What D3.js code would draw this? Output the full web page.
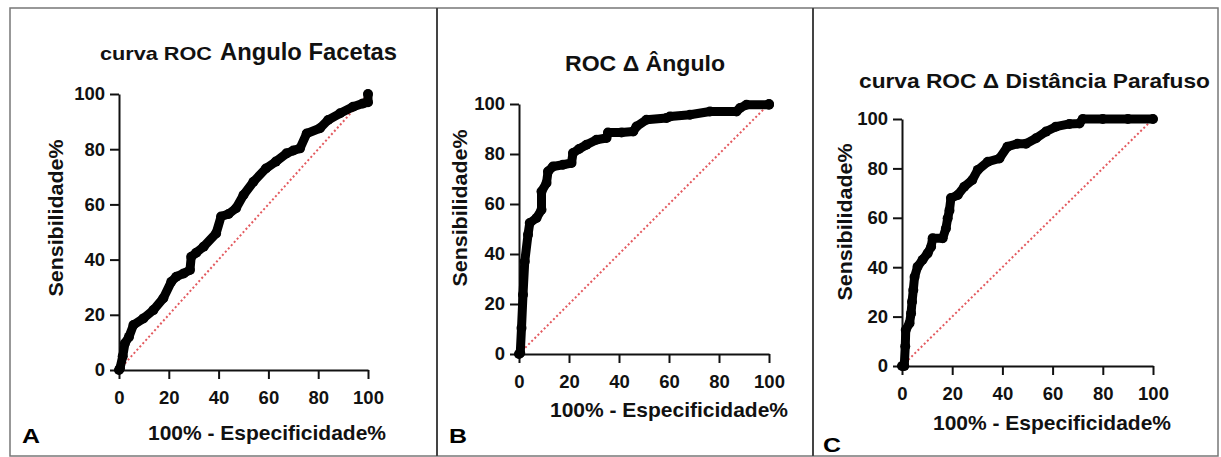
<!DOCTYPE html>
<html>
<head>
<meta charset="utf-8">
<script src="https://cdn.jsdelivr.net/npm/d3@7"></script>
<style>
  body { margin: 0; background: #fff; }
  svg { display: block; }
</style>
</head>
<body>
<div id="container"></div>
<script>
// tick values, shared by all three panels
const tickValues = [0, 20, 40, 60, 80, 100];

// A - curva ROC Angulo Facetas
const facetasFpr  = [0, 0.4, 1.5, 2.4, 4, 5.8, 9.8, 13.8, 17.8, 21, 23, 26, 28.5, 29, 31, 34, 39, 41, 44, 47, 50, 54, 59, 63, 67.3, 70, 72.7, 75.4, 80.7, 84, 88.8, 94, 98, 100, 100];
const facetasSens = [0, 0.6, 5, 9.7, 12, 16.3, 18.7, 21.7, 26, 32, 33.8, 35, 36.2, 41, 42.5, 44.7, 49.5, 55.6, 56.5, 58.6, 63.4, 68.2, 73, 75.5, 78.5, 79.5, 80.3, 85.7, 87.6, 90.6, 93, 95.4, 96.6, 97, 100];

// B - ROC delta Angulo
const anguloFpr  = [0, 0.5, 1, 1.6, 2.3, 3.6, 4.3, 7, 9, 9, 11, 11.6, 13.6, 17.6, 21, 21.6, 24, 27, 31, 35, 35.6, 41, 45.7, 47, 51, 59, 60.4, 68.4, 76.4, 87, 88.4, 91, 100, 100];
const anguloSens = [0, 0.4, 10.4, 23.7, 37, 47.7, 52.4, 54.4, 57.7, 65, 68.4, 73, 75, 75.7, 76.4, 80.4, 82, 83.7, 85.7, 86.4, 88.6, 88.6, 89, 91, 93.7, 94.4, 95, 95.7, 97, 97, 98.4, 99.7, 99.7, 100];

// C - curva ROC delta Distancia Parafuso
const distanciaFpr  = [0, 0.9, 1.3, 1.5, 3, 3.6, 4, 4.5, 5, 6.2, 8.2, 10.2, 11.6, 12.2, 16.2, 17.5, 18.2, 18.9, 19.5, 22.2, 24.8, 28, 30.2, 34.2, 38.8, 42, 46, 49.4, 53.4, 57.4, 61.3, 66.7, 70.7, 72, 80, 90, 100];
const distanciaSens = [0, 0, 8, 14.6, 17.3, 21.3, 26, 30.8, 36, 40.2, 43, 45.6, 48.3, 51.7, 51.7, 55.7, 59.8, 63, 68, 69.2, 72.6, 75.3, 79.4, 82.7, 84, 88.8, 90, 90, 92.2, 94.9, 96.9, 98, 98.2, 100, 100, 100, 100];

const w = 1221, h = 457;
const font = "'Liberation Sans', Arial, sans-serif";

const svg = d3.select("#container")
  .append("svg")
    .attr("width", w)
    .attr("height", h)
    .style("background-color", "#fff");

// outer frame + panel separators
svg.append("rect")
  .attr("x", 10).attr("y", 8)
  .attr("width", 1208).attr("height", 448)
  .attr("fill", "none")
  .attr("stroke", "#777")
  .attr("stroke-width", 1.5);
[437, 813].forEach(sx => {
  svg.append("line")
    .attr("x1", sx).attr("x2", sx)
    .attr("y1", 8).attr("y2", 456)
    .attr("stroke", "#444")
    .attr("stroke-width", 2);
});

// the source picture is a little stretched sideways, so texts get a fixed length
const panels = [
  { letter: "A", fpr: facetasFpr, sens: facetasSens,
    left: 119, right: 368, top: 94, bottom: 370,
    letterX: 22, letterY: 443,
    yTitleX: 63, yTitleY: 218, xTitleX: 267, xTitleY: 440,
    title: [{ t: "curva ROC", size: 19, x: 100, len: 112 },
            { t: "Angulo Facetas", size: 24.5, x: 220, len: 177 }],
    titleY: 60 },
  { letter: "B", fpr: anguloFpr, sens: anguloSens,
    left: 519, right: 769, top: 104, bottom: 354,
    letterX: 449, letterY: 443,
    yTitleX: 467, yTitleY: 208, xTitleX: 669, xTitleY: 417,
    title: [{ t: "ROC \u0394 \u00C2ngulo", size: 21.5, x: 565, len: 160 }],
    titleY: 71 },
  { letter: "C", fpr: distanciaFpr, sens: distanciaSens,
    left: 902, right: 1153, top: 119, bottom: 366,
    letterX: 823, letterY: 452,
    yTitleX: 852, yTitleY: 222, xTitleX: 1052, xTitleY: 430,
    title: [{ t: "curva ROC \u0394 Dist\u00E2ncia Parafuso", size: 21, x: 859, len: 351 }],
    titleY: 88 }
];

panels.forEach(p => {
  const xScale = d3.scaleLinear().domain([0, 100]).range([p.left, p.right]);
  const yScale = d3.scaleLinear().domain([0, 100]).range([p.bottom, p.top]);
  const g = svg.append("g");

  // title
  p.title.forEach(part => {
    g.append("text")
      .attr("x", part.x)
      .attr("y", p.titleY)
      .attr("textLength", part.len)
      .attr("lengthAdjust", "spacingAndGlyphs")
      .style("font-family", font)
      .style("font-weight", "bold")
      .style("font-size", part.size + "px")
      .attr("fill", "#111")
      .text(part.t);
  });

  // reference diagonal
  g.append("line")
    .attr("x1", xScale(0)).attr("y1", yScale(0))
    .attr("x2", xScale(100)).attr("y2", yScale(100))
    .attr("stroke", "#e35a5f")
    .attr("stroke-width", 2)
    .attr("stroke-dasharray", "2,2.4");

  // axes
  const xAxis = g.append("g")
    .attr("transform", `translate(0,${p.bottom})`)
    .call(d3.axisBottom(xScale).tickValues(tickValues).tickSize(9).tickSizeOuter(0).tickPadding(12));
  const yAxis = g.append("g")
    .attr("transform", `translate(${p.left},0)`)
    .call(d3.axisLeft(yScale).tickValues(tickValues).tickSize(9).tickSizeOuter(0).tickPadding(5));
  [xAxis, yAxis].forEach(a => {
    a.select(".domain").attr("stroke", "#111").attr("stroke-width", 2);
    a.selectAll(".tick line").attr("stroke", "#111").attr("stroke-width", 2);
    a.selectAll(".tick text")
      .attr("fill", "#111")
      .style("font-family", font)
      .style("font-weight", "bold")
      .style("font-size", "18.5px");
  });

  // ROC curve
  const pts = p.fpr.map((v, i) => ({ x: v, y: p.sens[i] }));
  const line = d3.line().x(d => xScale(d.x)).y(d => yScale(d.y));
  g.append("path")
    .datum(pts)
    .attr("fill", "none")
    .attr("stroke", "#000")
    .attr("stroke-width", 9)
    .attr("stroke-linejoin", "round")
    .attr("stroke-linecap", "round")
    .attr("d", line);
  g.selectAll("circle")
    .data(pts)
    .enter()
    .append("circle")
    .attr("cx", d => xScale(d.x))
    .attr("cy", d => yScale(d.y))
    .attr("r", 5)
    .attr("fill", "#000");

  // axis titles
  g.append("text")
    .attr("transform", `translate(${p.yTitleX},${p.yTitleY}) rotate(-90)`)
    .attr("text-anchor", "middle")
    .attr("textLength", 157)
    .attr("lengthAdjust", "spacingAndGlyphs")
    .style("font-family", font)
    .style("font-weight", "bold")
    .style("font-size", "21px")
    .attr("fill", "#111")
    .text("Sensibilidade%");
  g.append("text")
    .attr("x", p.xTitleX)
    .attr("y", p.xTitleY)
    .attr("text-anchor", "middle")
    .attr("textLength", 238)
    .attr("lengthAdjust", "spacingAndGlyphs")
    .style("font-family", font)
    .style("font-weight", "bold")
    .style("font-size", "20.5px")
    .attr("fill", "#111")
    .text("100% - Especificidade%");

  // panel letter
  g.append("text")
    .attr("x", p.letterX)
    .attr("y", p.letterY)
    .attr("textLength", 18)
    .attr("lengthAdjust", "spacingAndGlyphs")
    .style("font-family", font)
    .style("font-weight", "bold")
    .style("font-size", "20px")
    .attr("fill", "#000")
    .text(p.letter);
});
</script>
</body>
</html>
